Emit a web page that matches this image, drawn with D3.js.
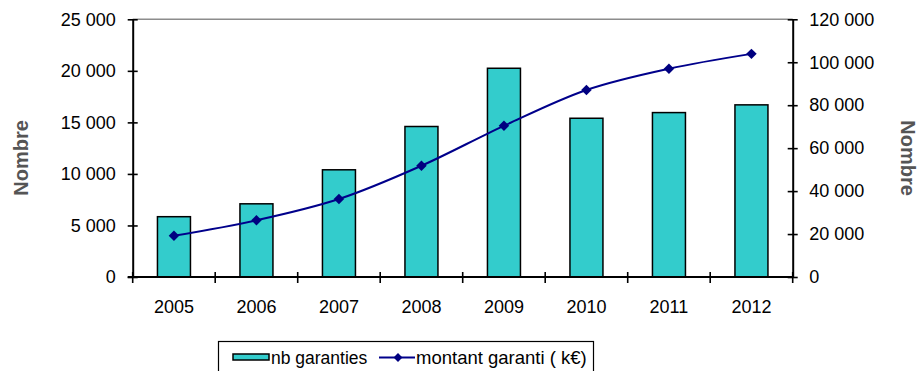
<!DOCTYPE html>
<html>
<head>
<meta charset="utf-8">
<script src="https://cdn.jsdelivr.net/npm/d3@7"></script>
<style>
  html, body { margin: 0; padding: 0; background: #fff; }
  svg { display: block; font-family: "Liberation Sans", Arial, sans-serif; }
</style>
</head>
<body>
<svg id="chart" width="922" height="371"></svg>
<script>
// Guarantees per year: count (bars, left axis) and amount in k€ (line, right axis)
const years = ["2005", "2006", "2007", "2008", "2009", "2010", "2011", "2012"];
const nbGaranties = [5850, 7100, 10400, 14600, 20250, 15400, 15950, 16700];
const montantGaranti = [19200, 26400, 36300, 51800, 70400, 87100, 97000, 103900];
const leftTicks = [0, 5000, 10000, 15000, 20000, 25000];
const rightTicks = [0, 20000, 40000, 60000, 80000, 100000, 120000];

const svg = d3.select("#chart");
const plot = { left: 132.7, right: 792.7, top: 19.3, bottom: 277 };

const x = d3.scaleBand().domain(years).range([plot.left, plot.right]).paddingInner(0.6).paddingOuter(0.3);
const yL = d3.scaleLinear().domain([0, 25000]).range([plot.bottom, plot.top]);
const yR = d3.scaleLinear().domain([0, 120000]).range([plot.bottom, plot.top]);

const fmt = v => d3.format(",")(v).replace(/,/g, " ");

// top frame line
svg.append("line")
  .attr("x1", plot.left).attr("x2", plot.right)
  .attr("y1", plot.top).attr("y2", plot.top)
  .attr("stroke", "#8c8c8c").attr("stroke-width", 1.5);

// bars
svg.append("g").selectAll("rect").data(years).join("rect")
  .attr("x", d => x(d))
  .attr("width", x.bandwidth())
  .attr("y", (d, i) => yL(nbGaranties[i]))
  .attr("height", (d, i) => yL(0) - yL(nbGaranties[i]))
  .attr("fill", "#33cccc")
  .attr("stroke", "#000").attr("stroke-width", 1.5);

// axes with crossing tick marks
function styleAxis(g) {
  g.select(".domain").attr("stroke", "#000").attr("stroke-width", 2);
  g.selectAll(".tick line").attr("stroke", "#000").attr("stroke-width", 1.6);
  g.selectAll(".tick text").attr("fill", "#000").style("font-size", "18px");
}

const axL = svg.append("g").attr("transform", `translate(${plot.left},0)`)
  .call(d3.axisLeft(yL).tickValues(leftTicks).tickFormat(fmt).tickSize(5).tickSizeOuter(0).tickPadding(12));
styleAxis(axL);
axL.selectAll(".tick line").attr("x2", 5).attr("x1", -5);
axL.selectAll(".tick text").attr("x", -17);

const axR = svg.append("g").attr("transform", `translate(${plot.right},0)`)
  .call(d3.axisRight(yR).tickValues(rightTicks).tickFormat(fmt).tickSize(5).tickSizeOuter(0));
styleAxis(axR);
axR.selectAll(".tick line").attr("x1", -5).attr("x2", 5);
axR.selectAll(".tick text").attr("x", 16.5);

// category axis: ticks sit on the category boundaries
const bounds = d3.range(years.length + 1).map(i => plot.left + i * (plot.right - plot.left) / years.length);
const axB = svg.append("g");
axB.append("line")
  .attr("x1", plot.left - 5).attr("x2", plot.right + 1)
  .attr("y1", plot.bottom).attr("y2", plot.bottom)
  .attr("stroke", "#000").attr("stroke-width", 2);
axB.selectAll("line.tk").data(bounds).join("line").attr("class", "tk")
  .attr("x1", d => d).attr("x2", d => d)
  .attr("y1", plot.bottom - 5).attr("y2", plot.bottom + 6)
  .attr("stroke", "#000").attr("stroke-width", 1.6);
axB.selectAll("text").data(years).join("text")
  .attr("x", d => x(d) + x.bandwidth() / 2)
  .attr("y", 313)
  .attr("text-anchor", "middle")
  .style("font-size", "18px")
  .text(d => d);

// smoothed amount line with diamond markers
const line = d3.line()
  .x((d, i) => x(years[i]) + x.bandwidth() / 2)
  .y(d => yR(d))
  .curve(d3.curveCatmullRom.alpha(0.5));
svg.append("path").datum(montantGaranti)
  .attr("d", line)
  .attr("fill", "none")
  .attr("stroke", "#00008b").attr("stroke-width", 2);

const diamond = d3.symbol().type(d3.symbolDiamond2).size(70);
svg.append("g").selectAll("path").data(montantGaranti).join("path")
  .attr("transform", (d, i) => `translate(${x(years[i]) + x.bandwidth() / 2},${yR(d)})`)
  .attr("d", diamond)
  .attr("fill", "#000080");

// axis titles
svg.append("text")
  .attr("transform", "translate(28,158) rotate(-90)")
  .attr("text-anchor", "middle")
  .attr("fill", "#555")
  .style("font-size", "20px").style("font-weight", "bold")
  .text("Nombre");
svg.append("text")
  .attr("transform", "translate(901,158) rotate(90)")
  .attr("text-anchor", "middle")
  .attr("fill", "#555")
  .style("font-size", "20px").style("font-weight", "bold")
  .text("Nombre");

// legend
const lg = svg.append("g");
lg.append("rect")
  .attr("x", 218.5).attr("y", 341.5).attr("width", 375).attr("height", 40)
  .attr("fill", "#fff").attr("stroke", "#000").attr("stroke-width", 1.2);
lg.append("rect")
  .attr("x", 233).attr("y", 354).attr("width", 36).attr("height", 6)
  .attr("fill", "#33cccc").attr("stroke", "#000").attr("stroke-width", 1.5);
lg.append("text").attr("x", 271).attr("y", 364).style("font-size", "17.5px").text("nb garanties");
lg.append("line")
  .attr("x1", 379).attr("x2", 415).attr("y1", 357.5).attr("y2", 357.5)
  .attr("stroke", "#00008b").attr("stroke-width", 2);
lg.append("path")
  .attr("transform", "translate(398,357.5)")
  .attr("d", d3.symbol().type(d3.symbolDiamond2).size(50))
  .attr("fill", "#000080");
lg.append("text").attr("x", 416).attr("y", 364).style("font-size", "18.5px").text("montant garanti ( k€)");
</script>
</body>
</html>
